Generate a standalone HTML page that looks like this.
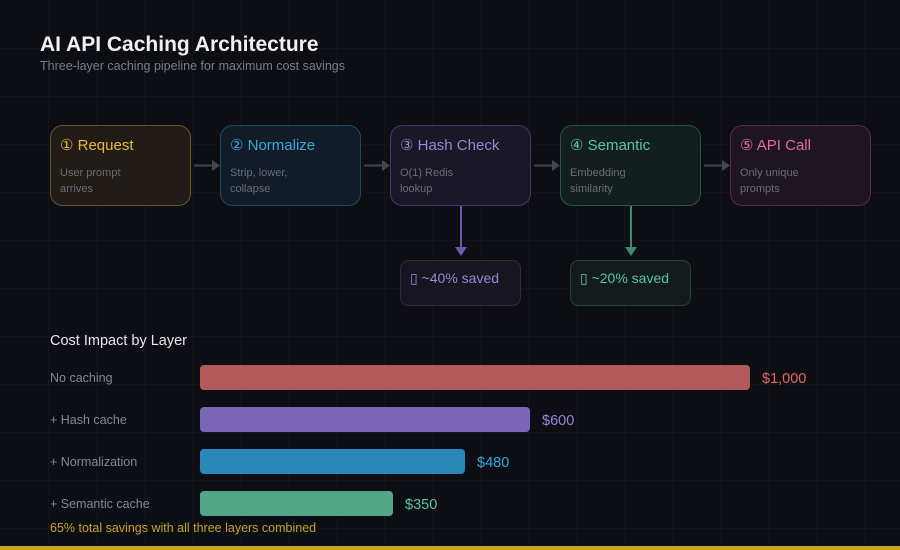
<!DOCTYPE html>
<html><head><meta charset="utf-8"><style>
html,body{margin:0;padding:0;background:#0d0e14;}
svg{display:block;font-family:"Liberation Sans",sans-serif;}
</style></head><body>
<svg width="900" height="550" viewBox="0 0 900 550" xmlns="http://www.w3.org/2000/svg">
<defs>
<pattern id="g" width="48" height="48" patternUnits="userSpaceOnUse">
<path d="M48 0V48M0 48H48" stroke="#181a22" stroke-width="1" fill="none"/>
</pattern>
</defs>
<rect width="900" height="550" fill="#0d0e14"/>
<rect width="900" height="550" fill="url(#g)" transform="translate(0.5,0.5)"/>
<text x="40" y="51" font-size="21" font-weight="bold" fill="#f0f0f4">AI API Caching Architecture</text>
<text x="40" y="70" font-size="12.5" fill="#7a7c86">Three-layer caching pipeline for maximum cost savings</text>

<g stroke-width="1">
<rect x="50.5" y="125.5" width="140" height="80" rx="12" fill="#211c17" stroke="#6b5520"/>
<rect x="220.5" y="125.5" width="140" height="80" rx="12" fill="#111c28" stroke="#1f4a62"/>
<rect x="390.5" y="125.5" width="140" height="80" rx="12" fill="#1a1726" stroke="#43396a"/>
<rect x="560.5" y="125.5" width="140" height="80" rx="12" fill="#131e1f" stroke="#2a5548"/>
<rect x="730.5" y="125.5" width="140" height="80" rx="12" fill="#1f1520" stroke="#5a2a48"/>
</g>
<g font-size="15">
<text x="60" y="150" fill="#e9b93a">① Request</text>
<text x="230" y="150" fill="#3aa9dc">② Normalize</text>
<text x="400" y="150" fill="#9a86dc">③ Hash Check</text>
<text x="570" y="150" fill="#58c7a0">④ Semantic</text>
<text x="740" y="150" fill="#e06aa4">⑤ API Call</text>
</g>
<g font-size="11" fill="#6a6c74">
<text x="60" y="176">User prompt</text><text x="60" y="192">arrives</text>
<text x="230" y="176">Strip, lower,</text><text x="230" y="192">collapse</text>
<text x="400" y="176">O(1) Redis</text><text x="400" y="192">lookup</text>
<text x="570" y="176">Embedding</text><text x="570" y="192">similarity</text>
<text x="740" y="176">Only unique</text><text x="740" y="192">prompts</text>
</g>
<g stroke="#44464e" stroke-width="2" fill="#44464e">
<line x1="194" y1="165.5" x2="212" y2="165.5"/><path d="M212 160L220 165.5L212 171Z" stroke="none"/>
<line x1="364" y1="165.5" x2="382" y2="165.5"/><path d="M382 160L390 165.5L382 171Z" stroke="none"/>
<line x1="534" y1="165.5" x2="552" y2="165.5"/><path d="M552 160L560 165.5L552 171Z" stroke="none"/>
<line x1="704" y1="165.5" x2="722" y2="165.5"/><path d="M722 160L730 165.5L722 171Z" stroke="none"/>
</g>
<line x1="461" y1="206" x2="461" y2="248" stroke="#6a58a8" stroke-width="2"/>
<path d="M455 247L467 247L461 256Z" fill="#6a58a8"/>
<line x1="631" y1="206" x2="631" y2="248" stroke="#3f8a6e" stroke-width="2"/>
<path d="M625 247L637 247L631 256Z" fill="#3f8a6e"/>
<rect x="400.5" y="260.5" width="120" height="45" rx="8" fill="#17151f" stroke="#2e2a40"/>
<rect x="570.5" y="260.5" width="120" height="45" rx="8" fill="#121a1c" stroke="#24403a"/>
<text x="410" y="283" font-size="14" fill="#9a86dc">▯ ~40% saved</text>
<text x="580" y="283" font-size="14" fill="#58c7a0">▯ ~20% saved</text>

<text x="50" y="345" font-size="14.5" fill="#e8e8ee">Cost Impact by Layer</text>
<g font-size="12.5" fill="#85878f">
<text x="50" y="382">No caching</text>
<text x="50" y="424">+ Hash cache</text>
<text x="50" y="466">+ Normalization</text>
<text x="50" y="508">+ Semantic cache</text>
</g>
<rect x="200" y="365" width="550" height="25" rx="4" fill="#b25a5a"/>
<rect x="200" y="407" width="330" height="25" rx="4" fill="#7a66b8"/>
<rect x="200" y="449" width="265" height="25" rx="4" fill="#2a88b8"/>
<rect x="200" y="491" width="193" height="25" rx="4" fill="#52a688"/>
<g font-size="14.5">
<text x="762" y="383" fill="#e06a66">$1,000</text>
<text x="542" y="425" fill="#9a86dc">$600</text>
<text x="477" y="467" fill="#3aa9dc">$480</text>
<text x="405" y="509" fill="#58c7a0">$350</text>
</g>
<text x="50" y="532" font-size="12.5" fill="#c9a22a">65% total savings with all three layers combined</text>
<rect x="0" y="546" width="900" height="4" fill="#c9a22a"/>
</svg>
</body></html>
